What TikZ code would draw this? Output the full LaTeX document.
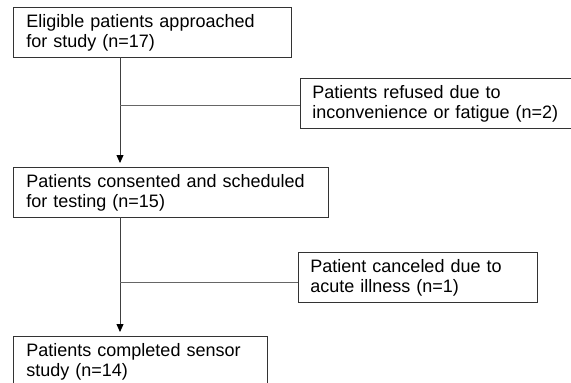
\documentclass[tikz,border=0pt]{standalone}
\usepackage{fontspec}
\setmainfont{Liberation Sans}
\usetikzlibrary{arrows.meta}
\begin{document}
\begin{tikzpicture}[x=1pt,y=-1pt,
  box/.style={draw=black!80, line width=0.9pt, rectangle, anchor=north west,
    align=left, inner xsep=13pt, inner ysep=0pt, font=\fontsize{18}{20}\selectfont},
  conn/.style={draw=black!60, line width=0.8pt},
  arr/.style={draw=black!75, line width=0.8pt, -{Triangle[length=8pt,width=7pt,fill=black,color=black]}, shorten >=4pt}]
\useasboundingbox (0,0) rectangle (571,383);
\clip (0,0) rectangle (571,383);
\node[box, text width=252pt, minimum height=50pt] (b1) at (13,7) {Eligible patients approached\\for study (n=17)};
\node[box, text width=256pt, minimum height=50pt, inner xsep=12pt] (refuse) at (300,78) {Patients refused due to\\inconvenience or fatigue (n=2)};
\node[box, text width=289pt, minimum height=50pt] (b2) at (13,167) {Patients consented and scheduled\\for testing (n=15)};
\node[box, text width=215pt, minimum height=50pt, inner xsep=12pt] (cancel) at (298,252) {Patient canceled due to\\acute illness (n=1)};
\node[box, text width=228pt, minimum height=50pt] (b4) at (13,336) {Patients completed sensor\\study (n=14)};
\coordinate (top1) at (120,57);
\coordinate (j1) at (120,105);
\coordinate (top2) at (120,217);
\coordinate (j2) at (120,282);
\draw[arr] (top1) -- (top1 |- b2.north);
\draw[conn] (j1) -- (j1 -| refuse.west);
\draw[arr] (top2) -- (top2 |- b4.north);
\draw[conn] (j2) -- (j2 -| cancel.west);
\end{tikzpicture}
\end{document}
